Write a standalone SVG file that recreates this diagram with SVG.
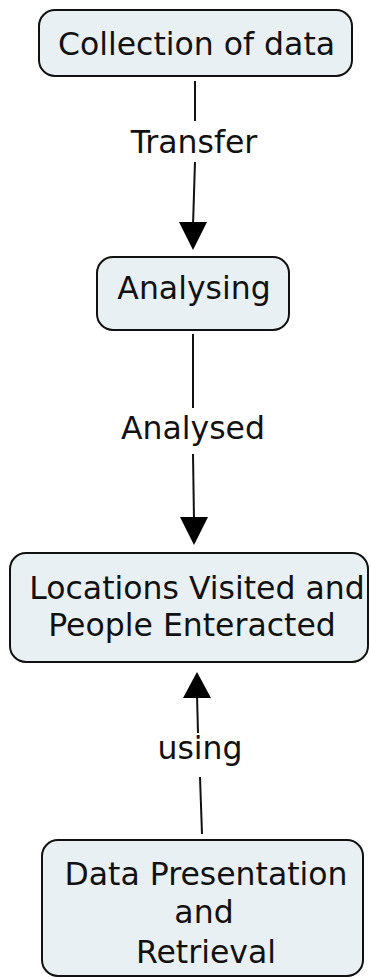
<svg xmlns="http://www.w3.org/2000/svg" width="371" height="978" viewBox="0 0 371 978">
<style>
.node rect{fill:#e9f0f3;stroke:#111;stroke-width:2}
text{font-family:"DejaVu Sans",Verdana,sans-serif;font-size:31.5px;fill:#111;text-anchor:middle}
.conn line{stroke:#111;stroke-width:2}
.conn polygon{fill:#000}
</style>
<rect width="371" height="978" fill="#fff"/>
<g class="conn" id="connectors">
<line x1="195" y1="81" x2="195" y2="121"/>
<text x="194" y="153">Transfer</text>
<line x1="195" y1="162" x2="193" y2="225"/>
<polygon points="179,222 207,222 193,250"/>
<line x1="193" y1="334" x2="193" y2="408"/>
<text x="193" y="439">Analysed</text>
<line x1="193" y1="454" x2="194" y2="520"/>
<polygon points="180,517 208,517 194,545"/>
<line x1="197" y1="695" x2="198" y2="733"/>
<polygon points="183,698 211,698 197,672"/>
<text x="200" y="759">using</text>
<line x1="200" y1="777" x2="202" y2="834"/>
</g>
<g class="node" id="n1">
<rect x="39" y="10" width="313" height="66" rx="16"/>
<text x="196.5" y="54.5">Collection of data</text>
</g>
<g class="node" id="n2">
<rect x="97" y="257" width="192" height="73" rx="16"/>
<text x="194" y="299">Analysing</text>
</g>
<g class="node" id="n3">
<rect x="10" y="553" width="358" height="109" rx="16"/>
<text x="197" y="599">Locations Visited and</text>
<text x="192" y="636">People Enteracted</text>
</g>
<g class="node" id="n4">
<rect x="42" y="840" width="321" height="136" rx="16"/>
<text x="206" y="885">Data Presentation</text>
<text x="204" y="923">and</text>
<text x="206" y="963">Retrieval</text>
</g>
</svg>
